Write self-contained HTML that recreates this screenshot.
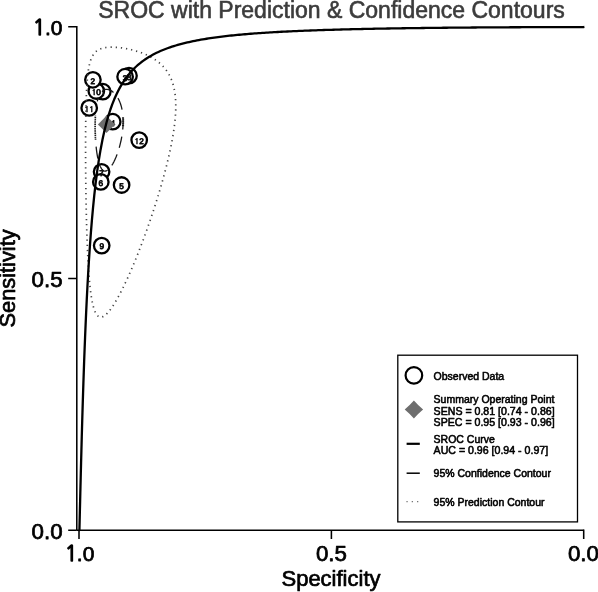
<!DOCTYPE html>
<html lang="en"><head><meta charset="utf-8"><title>SROC with Prediction &amp; Confidence Contours</title>
<style>html,body{margin:0;padding:0;background:#fff}body{width:598px;height:592px;overflow:hidden}</style></head>
<body>
<svg width="598" height="592" viewBox="0 0 598 592" style="display:block;font-family:'Liberation Sans',Arial,Helvetica,sans-serif">
<rect width="598" height="592" fill="#fff"/>
<text x="331.5" y="17.9" text-anchor="middle" font-size="23" fill="#3c3c3c" stroke="#3c3c3c" stroke-width="0.6" stroke-linejoin="round">SROC with Prediction &amp; Confidence Contours</text>
<g stroke="#000" stroke-width="1.55" fill="none" stroke-linecap="butt">
<path d="M76.8 25.9 V530.3"/>
<path d="M68.2 26.65 H76.8 M68.2 278.4 H76.8 M68.2 530.3 H76.8"/>
<path d="M76.8 530.3 H583.7"/>
<path d="M79 530.3 V538.9 M331.4 530.3 V538.9 M583.7 529.55 V538.9"/>
</g>
<g font-size="22.3" fill="#000" stroke="#000" stroke-width="0.75" stroke-linejoin="round">
<text x="62.4" y="35.3" text-anchor="end" font-size="21"><tspan font-family="NanumGothic,'Liberation Sans',sans-serif" font-size="21" stroke-width="1.3">1</tspan><tspan dx="-0.7">.0</tspan></text>
<text x="62.6" y="286.6" text-anchor="end">0.5</text>
<text x="62.6" y="539.4" text-anchor="end">0.0</text>
<text x="79.6" y="560.8" text-anchor="middle" font-size="21"><tspan font-family="NanumGothic,'Liberation Sans',sans-serif" font-size="21" stroke-width="1.3">1</tspan><tspan dx="-0.7">.0</tspan></text>
<text x="331.4" y="560.6" text-anchor="middle">0.5</text>
<text x="583.4" y="560.6" text-anchor="middle">0.0</text>
</g>
<text x="331" y="585.7" text-anchor="middle" font-size="22" fill="#000" stroke="#000" stroke-width="0.7" stroke-linejoin="round">Specificity</text>
<text transform="translate(14.5 278.4) rotate(-90)" text-anchor="middle" font-size="21.8" fill="#000" stroke="#000" stroke-width="0.7" stroke-linejoin="round">Sensitivity</text>
<circle cx="102.8" cy="91.7" r="7.75" fill="#fff" stroke="#000" stroke-width="2.3"/>
<circle cx="139.2" cy="140.1" r="7.75" fill="#fff" stroke="#000" stroke-width="2.3"/>
<circle cx="89.2" cy="107.9" r="7.75" fill="#fff" stroke="#000" stroke-width="2.3"/>
<circle cx="96.3" cy="91.0" r="7.75" fill="#fff" stroke="#000" stroke-width="2.3"/>
<circle cx="101.7" cy="245.6" r="7.75" fill="#fff" stroke="#000" stroke-width="2.3"/>
<circle cx="129.0" cy="75.7" r="7.75" fill="#fff" stroke="#000" stroke-width="2.3"/>
<circle cx="101.6" cy="171.8" r="7.75" fill="#fff" stroke="#000" stroke-width="2.3"/>
<circle cx="100.8" cy="181.9" r="7.75" fill="#fff" stroke="#000" stroke-width="2.3"/>
<circle cx="121.6" cy="185.0" r="7.75" fill="#fff" stroke="#000" stroke-width="2.3"/>
<circle cx="112.7" cy="121.7" r="7.75" fill="#fff" stroke="#000" stroke-width="2.3"/>
<circle cx="125.1" cy="76.7" r="7.75" fill="#fff" stroke="#000" stroke-width="2.3"/>
<circle cx="92.9" cy="79.8" r="7.75" fill="#fff" stroke="#000" stroke-width="2.3"/>
<g font-size="8.2" fill="#111" stroke="#111" stroke-width="0.8" stroke-linejoin="round" text-anchor="middle" text-rendering="geometricPrecision">
<text x="103.3" y="95.5"><tspan font-family="NanumGothic,'Liberation Sans',sans-serif" font-weight="bold" font-size="7.6" stroke-width="0.5">1</tspan></text>
<text x="139.2" y="143.9"><tspan font-family="NanumGothic,'Liberation Sans',sans-serif" font-weight="bold" font-size="7.6" stroke-width="0.5">1</tspan>2</text>
<text x="89.2" y="111.8"><tspan font-family="NanumGothic,'Liberation Sans',sans-serif" font-weight="bold" font-size="7.6" stroke-width="0.5">1</tspan><tspan font-family="NanumGothic,'Liberation Sans',sans-serif" font-weight="bold" font-size="7.6" stroke-width="0.5">1</tspan></text>
<text x="96.3" y="94.8"><tspan font-family="NanumGothic,'Liberation Sans',sans-serif" font-weight="bold" font-size="7.6" stroke-width="0.5">1</tspan>0</text>
<text x="101.7" y="249.4">9</text>
<text x="129.0" y="79.5">8</text>
<text x="101.6" y="175.7">7</text>
<text x="100.8" y="185.8">6</text>
<text x="121.6" y="188.8">5</text>
<text x="112.7" y="125.5">4</text>
<text x="125.1" y="80.5">3</text>
<text x="92.9" y="83.6">2</text>
</g>
<path d="M110.57 47.17 L112.07 47.15 L113.57 47.18 L115.07 47.24 L116.57 47.34 L118.06 47.47 L119.55 47.62 L121.04 47.80 L122.53 48.01 L124.01 48.24 L125.49 48.49 L126.96 48.76 L128.43 49.06 L129.90 49.39 L131.36 49.73 L132.81 50.10 L134.26 50.48 L135.70 50.90 L137.14 51.33 L138.57 51.79 L139.99 52.28 L141.40 52.78 L142.80 53.32 L144.19 53.88 L145.57 54.47 L146.93 55.09 L148.29 55.74 L149.62 56.42 L150.94 57.13 L152.25 57.87 L153.53 58.65 L154.79 59.46 L156.03 60.31 L157.24 61.19 L158.43 62.11 L159.58 63.07 L160.70 64.07 L161.79 65.10 L162.84 66.17 L163.86 67.27 L164.83 68.41 L165.76 69.59 L166.65 70.80 L167.49 72.04 L168.29 73.31 L169.04 74.61 L169.75 75.93 L170.41 77.28 L171.02 78.64 L171.60 80.03 L172.12 81.44 L172.61 82.86 L173.05 84.29 L173.45 85.73 L173.82 87.19 L174.15 88.65 L174.44 90.12 L174.70 91.60 L174.93 93.08 L175.12 94.57 L175.29 96.06 L175.43 97.55 L175.55 99.05 L175.64 100.55 L175.70 102.04 L175.75 103.54 L175.77 105.04 L175.77 106.54 L175.76 108.04 L175.73 109.54 L175.67 111.04 L175.61 112.54 L175.52 114.04 L175.43 115.54 L175.31 117.03 L175.19 118.53 L175.05 120.02 L174.90 121.51 L174.74 123.00 L174.56 124.49 L174.38 125.98 L174.19 127.47 L173.98 128.96 L173.77 130.44 L173.54 131.92 L173.31 133.41 L173.07 134.89 L172.83 136.37 L172.57 137.84 L172.31 139.32 L172.04 140.80 L171.76 142.27 L171.48 143.74 L171.18 145.21 L170.89 146.68 L170.58 148.15 L170.28 149.62 L169.96 151.09 L169.64 152.55 L169.32 154.02 L168.99 155.48 L168.65 156.94 L168.31 158.40 L167.96 159.86 L167.61 161.32 L167.26 162.78 L166.90 164.24 L166.54 165.69 L166.17 167.15 L165.80 168.60 L165.42 170.05 L165.04 171.50 L164.66 172.95 L164.27 174.40 L163.88 175.85 L163.49 177.30 L163.09 178.74 L162.69 180.19 L162.28 181.63 L161.87 183.08 L161.46 184.52 L161.05 185.96 L160.63 187.40 L160.21 188.84 L159.78 190.28 L159.35 191.72 L158.92 193.15 L158.49 194.59 L158.05 196.02 L157.61 197.46 L157.17 198.89 L156.72 200.32 L156.28 201.75 L155.82 203.18 L155.37 204.61 L154.91 206.04 L154.45 207.47 L153.99 208.90 L153.53 210.32 L153.06 211.75 L152.59 213.17 L152.11 214.60 L151.64 216.02 L151.16 217.44 L150.68 218.86 L150.19 220.28 L149.71 221.70 L149.22 223.12 L148.72 224.53 L148.23 225.95 L147.73 227.37 L147.23 228.78 L146.73 230.19 L146.22 231.60 L145.71 233.02 L145.20 234.43 L144.69 235.84 L144.17 237.24 L143.65 238.65 L143.13 240.06 L142.60 241.46 L142.08 242.87 L141.54 244.27 L141.01 245.67 L140.47 247.07 L139.93 248.47 L139.39 249.87 L138.84 251.27 L138.30 252.66 L137.74 254.06 L137.19 255.45 L136.63 256.84 L136.07 258.23 L135.50 259.62 L134.93 261.01 L134.36 262.40 L133.79 263.78 L133.21 265.17 L132.62 266.55 L132.04 267.93 L131.45 269.31 L130.85 270.68 L130.25 272.06 L129.65 273.43 L129.04 274.80 L128.43 276.17 L127.81 277.54 L127.19 278.90 L126.56 280.27 L125.93 281.63 L125.29 282.99 L124.65 284.34 L124.00 285.69 L123.34 287.04 L122.68 288.39 L122.01 289.73 L121.34 291.07 L120.65 292.40 L119.96 293.73 L119.26 295.06 L118.55 296.38 L117.83 297.70 L117.09 299.01 L116.35 300.31 L115.59 301.60 L114.82 302.89 L114.04 304.17 L113.23 305.43 L112.41 306.69 L111.56 307.92 L110.69 309.15 L109.79 310.34 L108.85 311.52 L107.87 312.65 L106.84 313.74 L105.75 314.77 L104.57 315.70 L103.29 316.48 L101.90 317.02 L100.41 317.15 L98.97 316.74 L97.75 315.88 L96.76 314.76 L95.95 313.50 L95.26 312.16 L94.68 310.78 L94.17 309.37 L93.71 307.94 L93.31 306.50 L92.94 305.05 L92.60 303.59 L92.29 302.12 L92.00 300.65 L91.73 299.17 L91.48 297.69 L91.24 296.21 L91.02 294.73 L90.82 293.24 L90.62 291.75 L90.43 290.27 L90.26 288.78 L90.09 287.29 L89.93 285.79 L89.78 284.30 L89.63 282.81 L89.49 281.32 L89.36 279.82 L89.23 278.33 L89.10 276.83 L88.98 275.34 L88.87 273.84 L88.76 272.35 L88.65 270.85 L88.55 269.35 L88.45 267.86 L88.36 266.36 L88.27 264.86 L88.18 263.36 L88.09 261.87 L88.01 260.37 L87.93 258.87 L87.85 257.37 L87.77 255.88 L87.70 254.38 L87.63 252.88 L87.56 251.38 L87.49 249.88 L87.42 248.38 L87.36 246.88 L87.30 245.39 L87.24 243.89 L87.18 242.39 L87.12 240.89 L87.07 239.39 L87.02 237.89 L86.96 236.39 L86.91 234.89 L86.86 233.39 L86.81 231.89 L86.77 230.40 L86.72 228.90 L86.68 227.40 L86.63 225.90 L86.59 224.40 L86.55 222.90 L86.51 221.40 L86.47 219.90 L86.44 218.40 L86.40 216.90 L86.36 215.40 L86.33 213.90 L86.29 212.40 L86.26 210.90 L86.23 209.40 L86.20 207.90 L86.17 206.40 L86.14 204.90 L86.11 203.40 L86.08 201.90 L86.05 200.40 L86.03 198.90 L86.00 197.40 L85.98 195.90 L85.95 194.40 L85.93 192.91 L85.91 191.41 L85.89 189.91 L85.87 188.41 L85.85 186.91 L85.83 185.41 L85.81 183.91 L85.79 182.41 L85.77 180.91 L85.76 179.41 L85.74 177.91 L85.73 176.41 L85.71 174.91 L85.70 173.41 L85.69 171.91 L85.67 170.41 L85.66 168.91 L85.65 167.41 L85.64 165.91 L85.63 164.41 L85.62 162.91 L85.61 161.41 L85.61 159.91 L85.60 158.41 L85.60 156.91 L85.59 155.41 L85.59 153.91 L85.58 152.41 L85.58 150.91 L85.58 149.41 L85.58 147.91 L85.58 146.41 L85.58 144.91 L85.58 143.41 L85.58 141.91 L85.59 140.41 L85.59 138.91 L85.60 137.41 L85.60 135.91 L85.61 134.41 L85.62 132.91 L85.63 131.41 L85.64 129.91 L85.65 128.41 L85.67 126.91 L85.68 125.41 L85.70 123.91 L85.71 122.41 L85.73 120.91 L85.75 119.41 L85.77 117.91 L85.80 116.41 L85.82 114.91 L85.85 113.41 L85.88 111.91 L85.91 110.41 L85.94 108.91 L85.98 107.41 L86.02 105.91 L86.06 104.41 L86.10 102.91 L86.15 101.41 L86.19 99.91 L86.25 98.41 L86.30 96.91 L86.36 95.42 L86.42 93.92 L86.49 92.42 L86.57 90.92 L86.64 89.42 L86.73 87.92 L86.81 86.43 L86.91 84.93 L87.01 83.43 L87.12 81.94 L87.24 80.44 L87.37 78.95 L87.51 77.46 L87.66 75.96 L87.83 74.47 L88.01 72.98 L88.21 71.50 L88.42 70.01 L88.66 68.53 L88.93 67.05 L89.22 65.58 L89.55 64.12 L89.92 62.67 L90.33 61.22 L90.80 59.80 L91.33 58.40 L91.94 57.03 L92.64 55.70 L93.44 54.43 L94.34 53.23 L95.36 52.13 L96.48 51.14 L97.71 50.27 L99.01 49.54 L100.38 48.92 L101.79 48.42 L103.24 48.03 L104.71 47.72 L106.19 47.49 L107.68 47.33" fill="none" stroke="#444" stroke-width="1.7" stroke-dasharray="1.250 3.915"/>
<path d="M102.60 90.77 L103.43 90.21 L104.32 89.77 L105.28 89.48 L106.27 89.35 L107.27 89.36 L108.26 89.52 L109.22 89.79 L110.14 90.16 L111.03 90.62 L111.88 91.16 L112.68 91.75 L113.45 92.39" fill="none" stroke="#181818" stroke-width="1.3"/>
<path d="M117.94 98.11 L118.42 98.99 L118.87 99.88 L119.29 100.78 L119.69 101.70 L120.05 102.63 L120.40 103.57 L120.72 104.52 L121.02 105.47 L121.29 106.43 L121.54 107.40 L121.77 108.38 L121.98 109.35 L122.02 109.55" fill="none" stroke="#181818" stroke-width="1.3"/>
<path d="M123.00 117.18 L123.06 118.18 L123.10 119.18 L123.12 120.18 L123.13 121.18 L123.13 122.18 L123.12 123.18 L123.09 124.18 L123.05 125.18 L123.00 126.18 L122.93 127.17 L122.86 128.17 L122.77 129.17 L122.74 129.47" fill="none" stroke="#181818" stroke-width="1.3"/>
<path d="M121.78 136.60 L121.60 137.58 L121.42 138.57 L121.23 139.55 L121.02 140.53 L120.81 141.50 L120.59 142.48 L120.36 143.45 L120.12 144.42 L119.87 145.39 L119.61 146.36 L119.34 147.32 L119.20 147.80" fill="none" stroke="#181818" stroke-width="1.3"/>
<path d="M117.06 154.36 L116.71 155.29 L116.35 156.23 L115.97 157.15 L115.59 158.08 L115.19 158.99 L114.78 159.90 L114.35 160.81 L113.91 161.71 L113.45 162.59 L112.97 163.47 L112.47 164.34 L111.95 165.19 L111.85 165.36" fill="none" stroke="#181818" stroke-width="1.3"/>
<path d="M107.58 170.21 L106.70 170.69 L105.75 171.00 L104.76 171.04 L103.80 170.78 L102.94 170.27 L102.21 169.58 L101.59 168.80 L101.05 167.96 L100.58 167.08 L100.16 166.17 L99.78 165.25 L99.44 164.31 L99.28 163.83" fill="none" stroke="#181818" stroke-width="1.3"/>
<path d="M97.88 158.52 L97.68 157.54 L97.49 156.56 L97.31 155.57 L97.15 154.59 L96.99 153.60 L96.84 152.61 L96.70 151.62 L96.57 150.63 L96.45 149.63 L96.33 148.64 L96.22 147.65 L96.12 146.65" fill="none" stroke="#181818" stroke-width="1.3"/>
<path d="M97.29 101.33 L97.53 100.36 L97.79 99.39 L98.08 98.43 L98.40 97.49" fill="none" stroke="#181818" stroke-width="1.3"/>
<path d="M123.02 117.48 L123.07 118.48 L123.11 119.48 L123.13 120.48 L123.14 121.48 L123.13 122.48 L123.11 123.48 L123.08 124.48 L123.04 125.48 L122.98 126.47 L122.96 126.77" fill="none" stroke="#181818" stroke-width="2.1" stroke-dasharray="1.1 0.8"/>
<path d="M95.55 139.68 L95.49 138.68 L95.43 137.68 L95.38 136.68 L95.34 135.68 L95.30 134.68 L95.26 133.68 L95.23 132.68 L95.20 131.68 L95.18 130.68 L95.16 129.69 L95.14 128.69 L95.13 127.69 L95.13 126.69 L95.13 125.69 L95.13 124.69 L95.14 123.69 L95.16 122.69 L95.18 121.69 L95.21 120.69 L95.24 119.69 L95.27 118.69 L95.32 117.69 L95.37 116.69 L95.42 115.69 L95.43 115.59" fill="none" stroke="#181818" stroke-width="1.7" stroke-dasharray="1.2 0.6"/>
<path d="M97.9 124.4 L106.5 115.8 L115.1 124.4 L106.5 133.0 Z" fill="#6e6e6e"/>
<path d="M79.00 530.20 L79.42 530.19 L79.42 530.18 L79.42 530.18 L79.42 530.18 L79.42 530.18 L79.42 530.18 L79.42 530.18 L79.42 530.18 L79.42 530.18 L79.42 530.18 L79.42 530.18 L79.42 530.17 L79.42 530.17 L79.42 530.17 L79.42 530.17 L79.42 530.17 L79.42 530.17 L79.42 530.16 L79.42 530.16 L79.42 530.16 L79.42 530.16 L79.42 530.16 L79.42 530.15 L79.42 530.15 L79.42 530.15 L79.42 530.14 L79.42 530.14 L79.42 530.14 L79.42 530.13 L79.42 530.13 L79.42 530.12 L79.43 530.12 L79.43 530.11 L79.43 530.11 L79.43 530.10 L79.43 530.10 L79.43 530.09 L79.43 530.08 L79.43 530.08 L79.43 530.07 L79.43 530.06 L79.43 530.05 L79.43 530.04 L79.43 530.03 L79.43 530.01 L79.43 530.00 L79.43 529.99 L79.43 529.97 L79.43 529.96 L79.43 529.94 L79.43 529.92 L79.43 529.90 L79.43 529.88 L79.43 529.86 L79.43 529.83 L79.43 529.80 L79.43 529.77 L79.43 529.74 L79.43 529.71 L79.43 529.67 L79.43 529.63 L79.44 529.59 L79.44 529.54 L79.44 529.49 L79.44 529.44 L79.44 529.38 L79.44 529.31 L79.44 529.24 L79.44 529.17 L79.45 529.09 L79.45 529.00 L79.45 528.90 L79.45 528.80 L79.46 528.68 L79.46 528.56 L79.46 528.42 L79.46 528.28 L79.47 528.12 L79.47 527.95 L79.48 527.76 L79.48 527.55 L79.49 527.33 L79.49 527.09 L79.50 526.82 L79.51 526.53 L79.51 526.22 L79.52 525.88 L79.53 525.50 L79.54 525.09 L79.55 524.65 L79.56 524.16 L79.58 523.63 L79.59 523.05 L79.61 522.42 L79.62 521.73 L79.64 520.97 L79.66 520.15 L79.68 519.25 L79.71 518.26 L79.73 517.19 L79.76 516.01 L79.79 514.73 L79.83 513.32 L79.86 511.79 L79.90 510.12 L79.95 508.29 L80.00 506.29 L80.05 504.12 L80.11 501.74 L80.17 499.15 L80.24 496.33 L80.31 493.26 L80.39 489.92 L80.48 486.29 L80.58 482.35 L80.69 478.08 L80.80 473.45 L80.93 468.44 L81.07 463.03 L81.22 457.21 L81.39 450.93 L81.57 444.20 L81.76 436.99 L81.98 429.28 L82.21 421.07 L82.47 412.34 L82.75 403.10 L83.06 393.35 L83.39 383.09 L83.76 372.35 L84.15 361.13 L84.59 349.48 L85.07 337.44 L85.59 325.03 L86.15 312.33 L86.77 299.38 L87.45 286.26 L88.19 273.02 L88.99 259.74 L89.88 246.49 L90.84 233.35 L91.89 220.38 L93.04 207.65 L94.29 195.23 L95.66 183.18 L97.15 171.54 L98.78 160.35 L100.57 149.66 L102.51 139.50 L104.64 129.87 L106.56 122.26 L108.48 115.51 L110.41 109.51 L112.33 104.13 L114.25 99.30 L116.18 94.93 L118.10 90.97 L120.02 87.36 L121.94 84.07 L123.87 81.05 L125.79 78.28 L127.71 75.72 L129.64 73.36 L131.56 71.17 L133.48 69.14 L135.40 67.24 L137.33 65.48 L139.25 63.83 L141.17 62.29 L143.10 60.85 L145.02 59.49 L146.94 58.21 L148.87 57.01 L150.79 55.88 L152.71 54.81 L154.63 53.79 L156.56 52.83 L158.48 51.93 L160.40 51.06 L162.33 50.24 L164.25 49.47 L166.17 48.72 L168.09 48.02 L170.02 47.34 L171.94 46.70 L173.86 46.09 L175.79 45.50 L177.71 44.94 L179.63 44.40 L181.56 43.88 L183.48 43.39 L185.40 42.92 L187.32 42.46 L189.25 42.02 L191.17 41.60 L193.09 41.20 L195.02 40.81 L196.94 40.44 L198.86 40.08 L200.78 39.73 L202.71 39.39 L204.63 39.07 L206.55 38.76 L208.48 38.45 L210.40 38.16 L212.32 37.88 L214.25 37.61 L216.17 37.34 L218.09 37.09 L220.01 36.84 L221.94 36.60 L223.86 36.37 L225.78 36.15 L227.71 35.93 L229.63 35.72 L231.55 35.51 L233.47 35.31 L235.40 35.12 L237.32 34.93 L239.24 34.75 L241.17 34.57 L243.09 34.40 L245.01 34.24 L246.93 34.07 L248.86 33.91 L250.78 33.76 L252.70 33.61 L254.63 33.47 L256.55 33.32 L258.47 33.19 L260.40 33.05 L262.32 32.92 L264.24 32.79 L266.16 32.67 L268.09 32.55 L270.01 32.43 L271.93 32.31 L273.86 32.20 L275.78 32.09 L277.70 31.98 L279.62 31.88 L281.55 31.77 L283.47 31.67 L285.39 31.58 L287.32 31.48 L289.24 31.39 L291.16 31.30 L293.09 31.21 L295.01 31.12 L296.93 31.03 L298.85 30.95 L300.78 30.87 L302.70 30.79 L304.62 30.71 L306.55 30.64 L308.47 30.56 L310.39 30.49 L312.31 30.42 L314.24 30.35 L316.16 30.28 L318.08 30.21 L320.01 30.15 L321.93 30.08 L323.85 30.02 L325.78 29.96 L327.70 29.90 L329.62 29.84 L331.54 29.78 L333.47 29.73 L335.39 29.67 L337.31 29.62 L339.24 29.56 L341.16 29.51 L343.08 29.46 L345.00 29.41 L346.93 29.36 L348.85 29.31 L350.77 29.26 L352.70 29.22 L354.62 29.17 L356.54 29.13 L358.46 29.08 L360.39 29.04 L362.31 29.00 L364.23 28.96 L366.16 28.91 L368.08 28.88 L370.00 28.84 L371.93 28.80 L373.85 28.76 L375.77 28.72 L377.69 28.69 L379.62 28.65 L381.54 28.62 L383.46 28.58 L385.39 28.55 L387.31 28.51 L389.23 28.48 L391.15 28.45 L393.08 28.42 L395.00 28.39 L396.92 28.36 L398.85 28.33 L400.77 28.30 L402.69 28.27 L404.62 28.24 L406.54 28.21 L408.46 28.19 L410.38 28.16 L412.31 28.13 L414.23 28.11 L416.15 28.08 L418.08 28.06 L420.00 28.03 L421.92 28.01 L423.84 27.99 L425.77 27.96 L427.69 27.94 L429.61 27.92 L431.54 27.90 L433.46 27.87 L435.38 27.85 L437.31 27.83 L439.23 27.81 L441.15 27.79 L443.07 27.77 L445.00 27.75 L446.92 27.73 L448.84 27.72 L450.77 27.70 L452.69 27.68 L454.61 27.66 L456.53 27.64 L458.46 27.63 L460.38 27.61 L462.30 27.59 L464.23 27.58 L466.15 27.56 L468.07 27.55 L469.99 27.53 L471.92 27.52 L473.84 27.50 L475.76 27.49 L477.69 27.47 L479.61 27.46 L481.53 27.45 L483.46 27.43 L485.38 27.42 L487.30 27.41 L489.22 27.39 L491.15 27.38 L493.07 27.37 L494.99 27.36 L496.92 27.35 L498.84 27.33 L500.76 27.32 L502.68 27.31 L504.61 27.30 L506.53 27.29 L508.45 27.28 L510.38 27.27 L512.30 27.26 L514.22 27.25 L516.15 27.24 L518.07 27.23 L519.99 27.23 L521.91 27.22 L523.84 27.21 L525.76 27.20 L527.68 27.19 L529.61 27.18 L531.53 27.18 L533.45 27.17 L535.37 27.16 L537.30 27.15 L539.22 27.15 L541.14 27.14 L543.07 27.13 L544.99 27.13 L546.91 27.12 L548.84 27.12 L550.76 27.11 L552.68 27.11 L554.60 27.10 L556.53 27.10 L558.45 27.09 L560.37 27.09 L562.30 27.08 L564.22 27.08 L566.14 27.07 L568.06 27.07 L569.99 27.07 L571.91 27.06 L573.83 27.06 L575.76 27.06 L577.68 27.06 L579.60 27.06 L581.52 27.05 L583.45 27.05 L584.40 26.90" fill="none" stroke="#000" stroke-width="2.3" stroke-linejoin="round"/>
<rect x="397.8" y="355.2" width="179.7" height="166.7" fill="#fff" stroke="#000" stroke-width="1.3"/>
<circle cx="413.9" cy="375.4" r="8.3" fill="none" stroke="#000" stroke-width="2.2"/>
<path d="M404.7 409.6 Q409.7 405.4 413.9 400.6 Q418.1 405.4 423.1 409.6 Q418.1 413.8 413.9 418.6 Q409.7 413.8 404.7 409.6 Z" fill="#6e6e6e"/>
<path d="M406.6 443.8 H419.8" stroke="#000" stroke-width="2.2"/>
<path d="M406.6 473.2 H419.8" stroke="#000" stroke-width="1.5"/>
<path d="M406.4 501.7 H419" stroke="#777" stroke-width="1.3" stroke-dasharray="1.3 4"/>
<g font-size="10.5" fill="#000" stroke="#000" stroke-width="0.55" stroke-linejoin="round">
<text x="433.6" y="380.3">Observed Data</text>
<text x="433.6" y="402.8">Summary Operating Point</text>
<text x="433.6" y="415.2" font-size="10.6">SENS = 0.81 [0.74 - 0.86]</text>
<text x="433.6" y="426.3" font-size="10.6">SPEC = 0.95 [0.93 - 0.96]</text>
<text x="433.6" y="443.1">SROC Curve</text>
<text x="433.6" y="454.1" font-size="10.6">AUC = 0.96 [0.94 - 0.97]</text>
<text x="433.6" y="477.4">95% Confidence Contour</text>
<text x="433.6" y="506.2">95% Prediction Contour</text>
</g>
</svg>
</body></html>
